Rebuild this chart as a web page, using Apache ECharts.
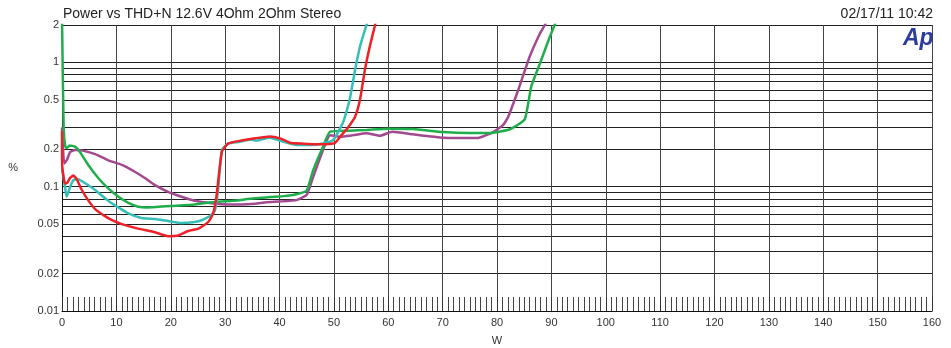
<!DOCTYPE html>
<html>
<head>
<meta charset="utf-8">
<script src="https://cdn.jsdelivr.net/npm/echarts@6/dist/echarts.min.js"></script>
<style>
  html, body {margin: 0; padding: 0; background: #fff;}
  #chart {width: 951px; height: 348px;}
</style>
</head>
<body>
<div id="chart"></div>
<script>
// [W, %] pairs
const purple = [[0,0.3],[0.4,0.154],[0.9,0.164],[1.5,0.19],[2.4,0.197],[3.6,0.196],[6.1,0.183],[8.5,0.163],[11,0.150],[13.4,0.132],[15.3,0.117],[17.1,0.103],[19.5,0.091],[22,0.083],[24.4,0.077],[27.5,0.0736],[30.6,0.072],[33,0.072],[35.5,0.073],[37.6,0.075],[40,0.076],[43.1,0.078],[45,0.086],[46.2,0.12],[48,0.197],[49.3,0.26],[51.1,0.252],[53.6,0.26],[56,0.269],[58.5,0.257],[60.7,0.277],[64.6,0.264],[70.1,0.248],[73.2,0.247],[76.5,0.247],[79.3,0.275],[81.1,0.313],[82,0.36],[83.9,0.6],[86,1.11],[87.9,1.71],[88.8,2.0],[89.5,2.3]]
const green = [[0,2.3],[0.3,0.3],[0.6,0.21],[0.9,0.205],[1.4,0.215],[2.4,0.21],[3.3,0.19],[4.8,0.15],[6.7,0.117],[8.5,0.097],[10.4,0.083],[12.2,0.074],[14,0.069],[15.6,0.068],[20,0.070],[24.4,0.072],[28.4,0.0757],[31.5,0.077],[34.6,0.080],[37.6,0.082],[40.7,0.084],[43.1,0.087],[45,0.093],[46.2,0.136],[48,0.21],[49.3,0.277],[52.9,0.282],[56,0.286],[60,0.293],[64.6,0.291],[70.1,0.275],[75,0.27],[78.7,0.27],[82.4,0.29],[85.1,0.348],[86.3,0.64],[87.9,0.98],[89.7,1.6],[91,2.2]]
const cyan = [[0,0.14],[0.55,0.1],[0.86,0.083],[1.5,0.1],[2.1,0.113],[3,0.115],[4.2,0.107],[6.1,0.094],[8.2,0.079],[9.7,0.071],[10.4,0.068],[12.2,0.061],[14.6,0.056],[17.1,0.055],[19.5,0.053],[22,0.051],[24.4,0.052],[25.8,0.054],[27.2,0.058],[28.1,0.064],[28.7,0.094],[29.4,0.197],[30.6,0.223],[32.7,0.23],[34.6,0.24],[35.8,0.235],[38.2,0.248],[40.7,0.23],[43.1,0.217],[45.6,0.217],[48,0.223],[49.9,0.238],[51.7,0.33],[52.9,0.5],[53.9,0.87],[54.8,1.34],[55.7,1.82],[56.3,2.2]]
const red = [[0,0.28],[0.05,0.145],[0.55,0.106],[1,0.108],[1.5,0.118],[2.1,0.123],[2.7,0.115],[3.6,0.095],[4.8,0.078],[6.1,0.066],[7.9,0.058],[9.5,0.053],[11,0.050],[14,0.046],[17.1,0.043],[19.5,0.040],[21.4,0.0405],[23.2,0.044],[25.1,0.046],[26.9,0.052],[27.8,0.061],[28.4,0.083],[29.4,0.191],[30.6,0.223],[33,0.235],[35.5,0.245],[38.2,0.254],[40.1,0.245],[41.9,0.226],[44.4,0.222],[46.8,0.22],[48.6,0.22],[50.2,0.225],[51.4,0.26],[52.6,0.30],[53.9,0.366],[54.8,0.5],[55.7,0.87],[56.6,1.34],[57.5,1.94],[57.8,2.2]]

const yLabels = [0.01, 0.02, 0.05, 0.1, 0.2, 0.5, 1, 2]
const yGrid = [0.01, 0.02, 0.03, 0.04, 0.05, 0.06, 0.07, 0.08, 0.09, 0.1, 0.2, 0.3, 0.4, 0.5, 0.6, 0.7, 0.8, 0.9, 1, 2]

const font = 'Liberation Sans, Arial, sans-serif'
const chart = echarts.init(document.getElementById('chart'))

const line = (data, color) => ({
  type: 'line',
  data: data,
  showSymbol: false,
  smooth: 0.15,
  clip: true,
  lineStyle: {color: color, width: 2.5},
  itemStyle: {color: color},
  animation: false
})

chart.setOption({
  backgroundColor: '#fff',
  textStyle: {fontFamily: font},
  title: [
    {text: 'Power vs THD+N 12.6V 4Ohm 2Ohm Stereo', left: 58, top: 2,
      textStyle: {fontSize: 14, fontWeight: 'normal', color: '#222', fontFamily: font}},
    {text: '02/17/11 10:42', right: 13, top: 2,
      textStyle: {fontSize: 14, fontWeight: 'normal', color: '#222', fontFamily: font}}
  ],
  graphic: [{
    type: 'text', left: 903, top: 27,
    style: {text: 'Ap', font: 'italic bold 23px Liberation Sans, Arial', fill: '#2c3d9e'}
  }],
  grid: {left: 62, right: 19, top: 25, bottom: 37, outerBoundsMode: 'none', containLabel: false},
  xAxis: {
    type: 'value', min: 0, max: 160, interval: 10,
    name: 'W', nameLocation: 'middle', nameGap: 24,
    nameTextStyle: {fontSize: 11, color: '#333'},
    axisLine: {show: true, lineStyle: {color: '#111', width: 1}},
    axisTick: {show: true, inside: true, length: 14, lineStyle: {color: '#333'}},
    minorTick: {show: true, splitNumber: 10, length: 14, lineStyle: {color: '#444'}},
    axisLabel: {fontSize: 11, color: '#333', margin: 6},
    splitLine: {show: true, lineStyle: {color: '#444', width: 1}}
  },
  yAxis: {
    type: 'log', logBase: 10, min: 0.01, max: 2,
    name: '%', nameLocation: 'middle', nameRotate: 0, nameGap: 44,
    nameTextStyle: {fontSize: 11, color: '#333'},
    axisLine: {show: true, lineStyle: {color: '#111', width: 1}},
    axisTick: {show: false, customValues: yGrid},
    axisLabel: {fontSize: 11, color: '#333', margin: 3, customValues: yLabels,
      formatter: v => String(v)},
    splitLine: {show: true, lineStyle: {color: '#222', width: 1}}
  },
  series: [
    line(purple, '#a2498f'),
    line(green, '#1eae4b'),
    line(cyan, '#36beb8'),
    line(red, '#ee2128')
  ]
})
</script>
</body>
</html>
